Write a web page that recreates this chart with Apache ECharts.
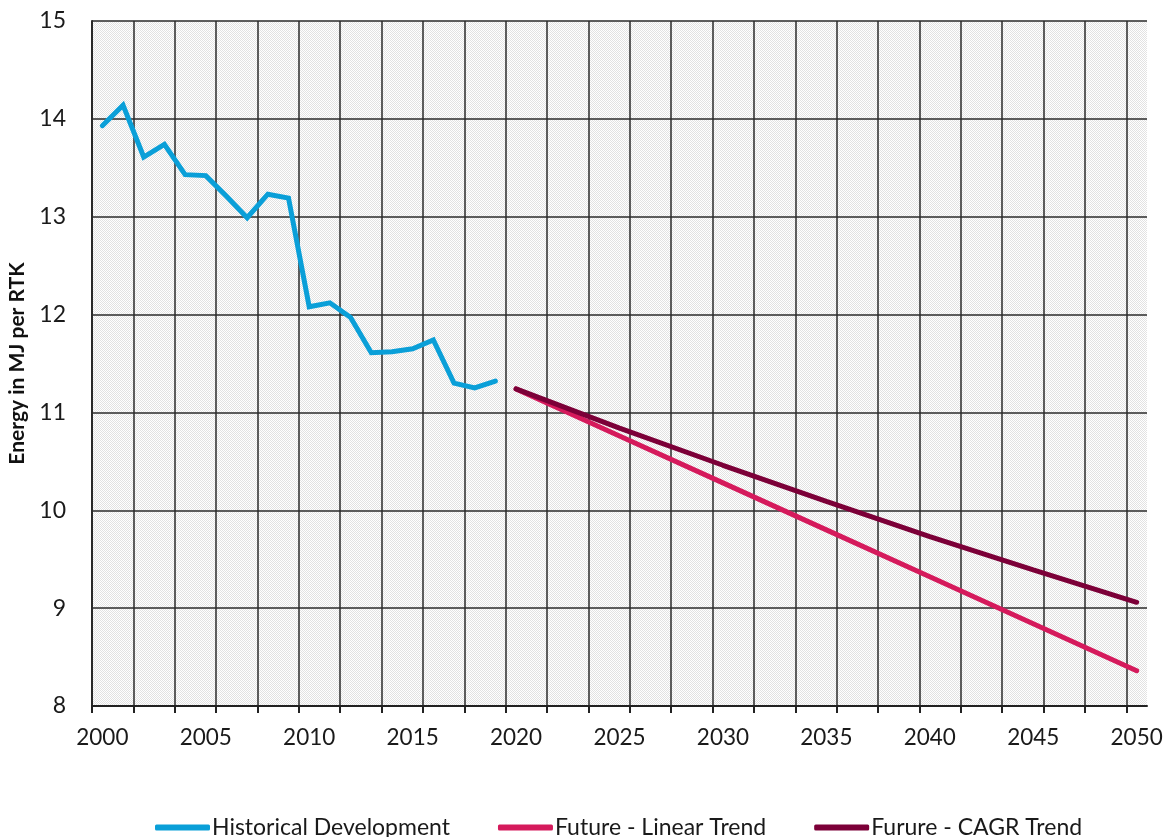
<!DOCTYPE html>
<html>
<head>
<meta charset="utf-8">
<script src="https://cdn.jsdelivr.net/npm/echarts@6/dist/echarts.min.js"></script>
<style>html,body{margin:0;padding:0;background:#fff}#c{width:1166px;height:837px}</style>
</head>
<body>
<div id="c"></div>
<script>
// Categories (years)
const years = [];
for (let y = 2000; y <= 2050; y++) years.push(String(y));

// Historical Development 2000-2019
const histYears = ['2000','2001','2002','2003','2004','2005','2006','2007','2008','2009','2010','2011','2012','2013','2014','2015','2016','2017','2018','2019'];
const histValues = [13.93, 14.14, 13.61, 13.74, 13.43, 13.42, 13.21, 12.99, 13.23, 13.19, 12.08, 12.12, 11.97, 11.61, 11.62, 11.65, 11.74, 11.30, 11.25, 11.32];

// Future trends, read every 5 years
const trendYears = ['2020','2025','2030','2035','2040','2045','2050'];
const linearValues = [11.24, 10.76, 10.28, 9.80, 9.32, 8.84, 8.36];
const cagrValues = [11.24, 10.84, 10.46, 10.09, 9.73, 9.39, 9.06];

const seriesNames = ['Historical Development', 'Future - Linear Trend', 'Furure - CAGR Trend'];
const colors = ['#0a9fd8', '#d51a5c', '#7c0038'];

const pair = (xs, vs) => xs.map((x, i) => [x, vs[i]]);

// fine dotted background pattern
const pc = document.createElement('canvas');
pc.width = 2; pc.height = 2;
const pctx = pc.getContext('2d');
pctx.fillStyle = '#ffffff'; pctx.fillRect(0,0,2,2);
pctx.fillStyle = '#e2e2e2'; pctx.fillRect(0,0,1,1); pctx.fillRect(1,1,1,1);

const W = 1166, L = 92, R = 19;
const band = (W - L - R) / years.length;
const lastBoundary = years.length - 1; // category boundaries counted in years

const FONT = 'Lato';
const chart = echarts.init(document.getElementById('c'), null, {renderer: 'canvas'});
chart.setOption({
  animation: false,
  color: colors,
  grid: [{
    left: L, right: R, top: 21, bottom: 131,
    outerBoundsMode: 'none', containLabel: false,
    show: true, borderWidth: 0, borderColor: 'rgba(0,0,0,0)',
    backgroundColor: {image: pc, repeat: 'repeat'}
  }, {
    // grid used only for the vertical lines at every second category boundary
    left: L, right: R + band, top: 21, bottom: 131,
    outerBoundsMode: 'none', containLabel: false, show: false
  }],
  legend: {
    top: 811, left: 150,
    itemWidth: 55, itemHeight: 6, itemGap: 48,
    icon: 'roundRect',
    textStyle: {fontFamily: FONT, fontSize: 23, color: '#1a1a1a', padding: [0, 0, 0, -3]},
    data: seriesNames
  },
  xAxis: [{
    type: 'category', gridIndex: 0,
    data: years,
    boundaryGap: true,
    axisLine: {lineStyle: {color: '#222', width: 2}},
    axisTick: {show: false},
    axisLabel: {interval: 4, fontFamily: FONT, fontSize: 22.5, color: '#1a1a1a', margin: 20},
    splitLine: {show: false}
  }, {
    type: 'value', gridIndex: 1, position: 'bottom',
    min: 0, max: lastBoundary, interval: 2,
    axisLine: {show: false},
    axisLabel: {show: false},
    axisTick: {show: true, length: 7, lineStyle: {color: '#222', width: 2}},
    splitLine: {show: true, lineStyle: {color: '#2a2a2a', width: 1.5}}
  }],
  yAxis: [{
    type: 'value', gridIndex: 0, min: 8, max: 15, interval: 1,
    name: 'Energy in MJ per RTK',
    nameLocation: 'middle', nameGap: 64, nameRotate: 90,
    nameTextStyle: {fontFamily: FONT, fontSize: 21, fontWeight: 'bold', color: '#111'},
    axisLine: {show: true, lineStyle: {color: '#2a2a2a', width: 2}},
    axisTick: {show: false},
    axisLabel: {fontFamily: FONT, fontSize: 23, color: '#1a1a1a', margin: 26},
    splitLine: {show: true, lineStyle: {color: '#2a2a2a', width: 1.5}}
  }, {
    type: 'value', gridIndex: 1, min: 8, max: 15, show: false,
    splitLine: {show: false}
  }],
  series: [
    {name: seriesNames[0], type: 'line', xAxisIndex: 0, yAxisIndex: 0, data: pair(histYears, histValues), symbol: 'none', z: 3,
     lineStyle: {width: 5, color: colors[0], cap: 'round', join: 'miter'}},
    {name: seriesNames[1], type: 'line', xAxisIndex: 0, yAxisIndex: 0, data: pair(trendYears, linearValues), symbol: 'none', z: 3,
     lineStyle: {width: 5, color: colors[1], cap: 'round'}},
    {name: seriesNames[2], type: 'line', xAxisIndex: 0, yAxisIndex: 0, data: pair(trendYears, cagrValues), symbol: 'none', z: 3,
     lineStyle: {width: 5, color: colors[2], cap: 'round'}}
  ]
});
</script>
</body>
</html>
